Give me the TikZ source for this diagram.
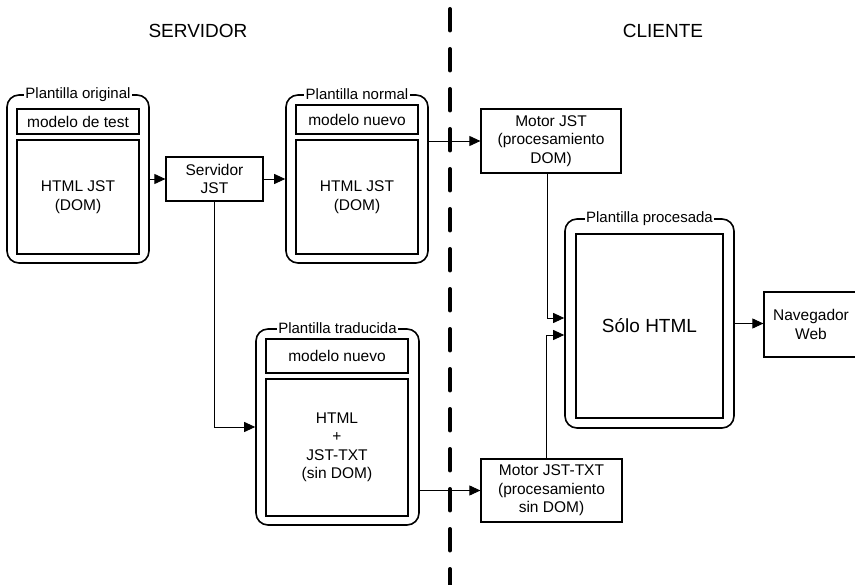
\documentclass[tikz,border=0pt]{standalone}
\usepackage{fontspec}
\setmainfont{Liberation Sans}
\usetikzlibrary{arrows.meta}
\tikzset{
	grupo/.style={draw, line width=1.6pt, rounded corners=12pt, inner sep=0pt},
	caja/.style={draw, line width=1.2pt, inner sep=0pt, align=center, font=\fontsize{15.5}{18.5}\selectfont},
	rotulo/.style={fill=white, inner xsep=1.5pt, inner ysep=0pt, font=\fontsize{15}{18}\selectfont},
	flecha/.style={line width=0.9pt, -{Triangle[length=11pt,width=10pt]}},
	titulo/.style={font=\fontsize{19}{21}\selectfont},
	frontera/.style={line width=4pt, line cap=round, dash pattern=on 21.5pt off 18.5pt}
}

\begin{document}
\begin{tikzpicture}[x=1pt, y=-1pt]
			%%%%% START %%%%%
			\clip (0, 0) rectangle (855, 585);
			
			\node[titulo] (servidor) at (198, 30.5) {SERVIDOR};
			\node[titulo] (cliente) at (663, 30.5) {CLIENTE};
			
			\coordinate (sepA) at (450, 9);
			\coordinate (sepB) at (450, 600);
			\draw[frontera] (sepA) -- (sepB);
			
			% plantilla original
			\node[grupo, minimum width=142pt, minimum height=168pt] (orig) at (78, 179) {};
			\node[caja, minimum width=122pt, minimum height=25pt] (origmod) at (78, 121.5) {modelo de test};
			\node[caja, minimum width=122pt, minimum height=114pt] (orightml) at (78, 197) {HTML JST\\(DOM)};
			\node[rotulo] (origtit) at (orig.north) {Plantilla original};
			
			\node[caja, minimum width=97pt, minimum height=44pt] (srv) at (214.5, 179) {Servidor\\JST};
			
			% plantilla normal
			\node[grupo, minimum width=142pt, minimum height=168pt] (norm) at (357, 179) {};
			\node[caja, minimum width=122pt, minimum height=29pt] (normmod) at (357, 119.5) {modelo nuevo};
			\node[caja, minimum width=122pt, minimum height=114pt] (normhtml) at (357, 197) {HTML JST\\(DOM)};
			\node[rotulo] (normtit) at (norm.north) {Plantilla normal};
			
			% plantilla traducida
			\node[grupo, minimum width=163pt, minimum height=196pt] (trad) at (337.5, 427) {};
			\node[caja, minimum width=142pt, minimum height=34pt] (tradmod) at (337, 356) {modelo nuevo};
			\node[caja, minimum width=142pt, minimum height=137pt] (tradhtml) at (337, 447.5) {HTML\\+\\JST-TXT\\(sin DOM)};
			\node[rotulo] (tradtit) at (trad.north) {Plantilla traducida};
			
			\node[caja, minimum width=140pt, minimum height=64pt] (mjst) at (551, 141) {Motor JST\\(procesamiento\\DOM)};
			\node[caja, minimum width=141pt, minimum height=63pt] (mtxt) at (551.5, 490.5) {Motor JST-TXT\\(procesamiento\\sin DOM)};
			
			% plantilla procesada
			\node[grupo, minimum width=169pt, minimum height=209pt] (proc) at (649.5, 323.5) {};
			\node[caja, minimum width=147pt, minimum height=184pt, font=\fontsize{19}{22}\selectfont] (prochtml) at (649.5, 326) {Sólo HTML};
			\node[rotulo] (proctit) at (proc.north) {Plantilla procesada};
			
			\node[caja, minimum width=94pt, minimum height=65pt] (nav) at (811, 324.5) {Navegador\\Web};
			
			% conexiones
			\draw[flecha] (orig.east |- srv.west) -- (srv.west);
			\draw[flecha] (srv.east) -- (srv.east -| norm.west);
			\draw[flecha] (norm.east |- mjst.west) -- (mjst.west);
			\draw[flecha] (srv.south) |- (trad.west);
			\draw[flecha] (trad.east |- mtxt.west) -- (mtxt.west);
			\draw[flecha] ([xshift=-4pt]mjst.south) |- ([yshift=5.5pt]proc.west);
			\draw[flecha] ([xshift=-5.5pt]mtxt.north) |- ([yshift=-11.5pt]proc.west);
			\draw[flecha] (proc.east) -- (proc.east -| nav.west);
			
			%%%%% END %%%%%
\end{tikzpicture}
\end{document}
